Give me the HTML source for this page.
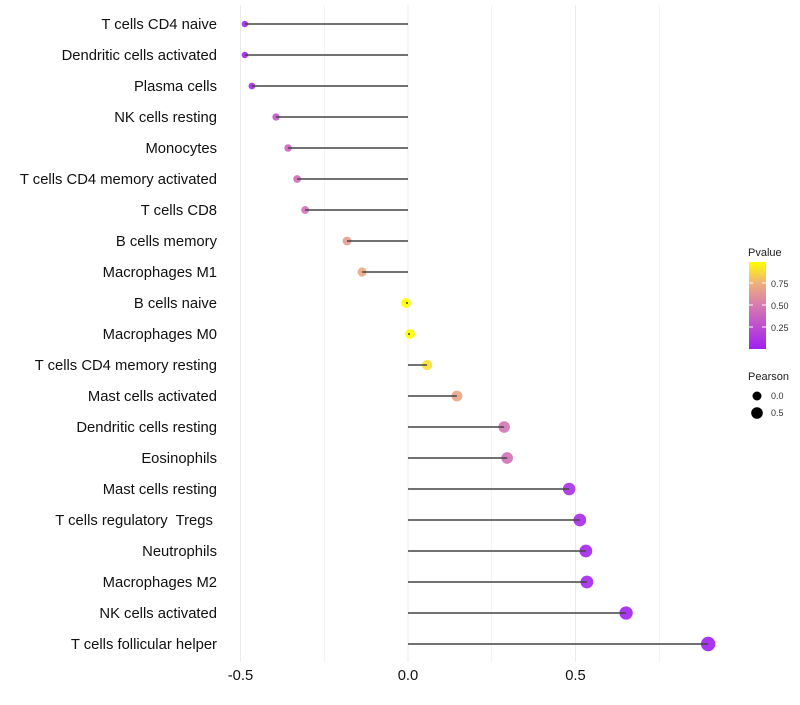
<!DOCTYPE html>
<html><head><meta charset="utf-8"><style>
body{margin:0;background:#fff;font-family:"Liberation Sans",sans-serif}
text{white-space:pre}
</style></head><body>
<svg id="c" width="800" height="700" xmlns="http://www.w3.org/2000/svg">
<defs><linearGradient id="g" x1="0" y1="1" x2="0" y2="0">
<stop offset="0" stop-color="#a020f0"/><stop offset="0.5" stop-color="#d77ab0"/><stop offset="0.76" stop-color="#eeb27a"/><stop offset="1" stop-color="#ffff00"/></linearGradient></defs>
<g id="grid"></g><g id="dots"></g><g id="marks"></g><g id="labels"></g>
<g>
<text x="748" y="256" font-size="11" fill="#222">Pvalue</text>
<rect x="749" y="262" width="17" height="87" fill="url(#g)"/>
<line x1="749" y1="283" x2="753" y2="283" stroke="#fff"/><line x1="762" y1="283" x2="766" y2="283" stroke="#fff"/>
<line x1="749" y1="305" x2="753" y2="305" stroke="#fff"/><line x1="762" y1="305" x2="766" y2="305" stroke="#fff"/>
<line x1="749" y1="327" x2="753" y2="327" stroke="#fff"/><line x1="762" y1="327" x2="766" y2="327" stroke="#fff"/>
<text x="771" y="287" font-size="9" fill="#333">0.75</text>
<text x="771" y="309" font-size="9" fill="#333">0.50</text>
<text x="771" y="331" font-size="9" fill="#333">0.25</text>
<text x="748" y="380" font-size="11" fill="#222">Pearson</text>
<circle cx="757" cy="396" r="4.5" fill="#000"/>
<text x="771" y="399" font-size="9" fill="#333">0.0</text>
<circle cx="757" cy="413" r="5.8" fill="#000"/>
<text x="771" y="416" font-size="9" fill="#333">0.5</text>
</g>
</svg>
<script>
const categories=["T cells CD4 naive","Dendritic cells activated","Plasma cells","NK cells resting","Monocytes","T cells CD4 memory activated","T cells CD8","B cells memory","Macrophages M1","B cells naive","Macrophages M0","T cells CD4 memory resting","Mast cells activated","Dendritic cells resting","Eosinophils","Mast cells resting","T cells regulatory  Tregs ","Neutrophils","Macrophages M2","NK cells activated","T cells follicular helper"];
const pearson=[-0.487,-0.487,-0.466,-0.394,-0.358,-0.331,-0.307,-0.182,-0.137,-0.006,0.006,0.057,0.146,0.287,0.296,0.481,0.513,0.531,0.534,0.651,0.896];
const pvalue=[0.03,0.03,0.04,0.3,0.38,0.42,0.45,0.66,0.72,0.99,0.99,0.9,0.7,0.47,0.45,0.1,0.07,0.05,0.05,0.02,0.01];
const ticks=[-0.5,0,0.5];
const tickLabels=["-0.5","0.0","0.5"];
const ns="http://www.w3.org/2000/svg";
const xS=v=>408+v*335;
const yS=i=>24+i*31;
const rS=p=>Math.sqrt(Math.max(2.25,25+30*p));
function mk(t,a,p){const e=document.createElementNS(ns,t);for(const k in a)e.setAttribute(k,a[k]);document.getElementById(p).appendChild(e);return e;}
function lerp(a,b,t){return a.map((v,i)=>Math.round(v+(b[i]-v)*t));}
function col(p){const st=[[0.01,[160,32,240]],[0.5,[215,122,176]],[0.76,[238,178,122]],[0.99,[255,255,0]]];
if(p<=st[0][0])return "rgb("+st[0][1]+")";for(let i=1;i<st.length;i++){if(p<=st[i][0]){return "rgb("+lerp(st[i-1][1],st[i][1],(p-st[i-1][0])/(st[i][0]-st[i-1][0]))+")";}}return "rgb(255,255,0)";}
for(let v=-0.5;v<=0.76;v+=0.25){const l=mk("line",{x1:xS(v),x2:xS(v),y1:5,y2:662,stroke:"#ebebeb","stroke-width":Math.abs(v*4%2)<0.01?1:0.6},"grid");

}
ticks.forEach((t,i)=>{const e=mk("text",{x:xS(t),y:680,"font-size":14.8,"text-anchor":"middle",fill:"#111"},"labels");e.textContent=tickLabels[i];

});
categories.forEach((c,i)=>{const y=yS(i);
const t=mk("text",{x:217,y:y+5,"font-size":14.8,"text-anchor":"end",fill:"#111"},"labels");t.textContent=c;


const l=mk("line",{x1:xS(0),x2:xS(pearson[i]),y1:y,y2:y,stroke:"#444","stroke-width":1.5},"marks");


const d=mk("circle",{cx:xS(pearson[i]),cy:y,r:rS(pearson[i]),fill:col(pvalue[i]),"fill-opacity":0.9},"dots");

});
</script>
</body></html>
